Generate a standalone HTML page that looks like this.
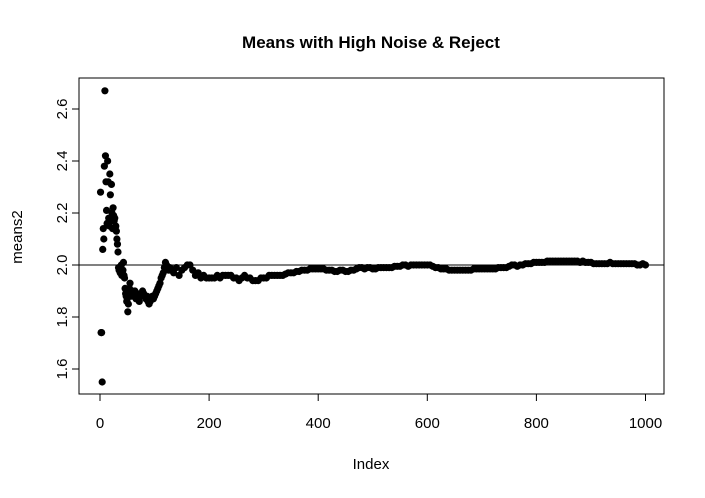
<!DOCTYPE html>
<html><head><meta charset="utf-8"><style>
body{margin:0;background:#fff}
svg text{font-family:"Liberation Sans",Arial,sans-serif;fill:#000}
</style></head><body>
<svg id="chart" width="705" height="493" xmlns="http://www.w3.org/2000/svg">
<rect width="705" height="493" fill="#fff"/>
<text x="371" y="48" text-anchor="middle" font-size="17" font-weight="bold">Means with High Noise &amp; Reject</text>
<text x="371" y="469" text-anchor="middle" font-size="15">Index</text>
<text transform="translate(22,237) rotate(-90)" text-anchor="middle" font-size="15">means2</text>
<g id="axes"></g>
<g id="points"></g>
<rect x="79" y="78" width="585" height="316" fill="none" stroke="#000" stroke-width="1"/>
</svg>
<script>
const earlyValues=[2.28,1.74,1.74,1.55,2.06,2.14,2.10,2.38,2.67,2.42,2.32,2.21,2.16,2.40,2.32,2.18,2.15,2.35,2.27,2.17,2.31,2.20,2.14,2.22,2.19,2.17,2.18,2.14,2.15,2.13,2.10,2.08,2.05,1.99,1.98,1.98,1.97,1.99,2.00,1.96,1.97,1.98,2.01,1.96,1.95,1.91,1.89,1.88,1.86,1.87,1.82,1.85,1.88,1.91,1.93,1.90,1.89,1.88,1.90,1.89];
const midStart=62;
const midStep=2;
const midValues=[1.88,1.90,1.87,1.89,1.88,1.86,1.88,1.89,1.90,1.89,1.88,1.87,1.88,1.86,1.85,1.86,1.87,1.88,1.87,1.88,1.89,1.90,1.91,1.92,1.93,1.95,1.96,1.97,1.99,2.01,2.00,1.99,1.98,1.99,1.98];
const laterStart=135;
const laterStep=5;
const laterValues=[1.97,1.99,1.96,1.98,1.99,2.00,
2.00,1.98,1.96,1.97,1.95,1.96,1.95,1.95,
1.95,1.95,1.96,1.95,1.96,1.96,1.96,1.96,1.95,1.95,
1.94,1.95,1.96,1.95,1.95,1.94,1.94,1.94,1.95,1.95,
1.95,1.96,1.96,1.96,1.96,1.96,1.96,1.965,1.97,1.97,1.97,1.975,1.975,1.98,1.98,1.98,1.985,1.985,1.985,1.985,
1.985,1.985,1.98,1.98,1.98,1.975,1.975,1.98,1.98,1.975,1.975,1.98,1.98,1.985,1.99,1.99,1.985,1.99,1.99,1.985,
1.985,1.99,1.99,1.99,1.99,1.99,1.99,1.995,1.995,1.995,2.0,2.0,1.995,2.0,2.0,2.0,2.0,2.0,2.0,2.0,
2.0,1.995,1.99,1.99,1.985,1.985,1.985,1.98,1.98,1.98,1.98,1.98,1.98,1.98,1.98,1.98,1.985,1.985,1.985,1.985,
1.985,1.985,1.985,1.985,1.985,1.99,1.99,1.99,1.99,1.995,2.0,2.0,1.995,2.0,2.0,2.005,2.005,2.005,2.01,2.01,
2.01,2.01,2.01,2.015,2.015,2.015,2.015,2.015,2.015,2.015,2.015,2.015,2.015,2.015,2.015,2.01,2.015,2.01,2.01,2.01,
2.005,2.005,2.005,2.005,2.005,2.005,2.01,2.005,2.005,2.005,2.005,2.005,2.005,2.005,2.005,2.005,2.0,2.0,2.005,2.0];
const xTicks=[0,200,400,600,800,1000];
const yTicks=[1.6,1.8,2.0,2.2,2.4,2.6];
const refLine=2.0;

const NS="http://www.w3.org/2000/svg";
const xs=v=>100+v*0.5455;
const ys=v=>265-(v-2.0)*260;
const axes=document.getElementById('axes');
const pts=document.getElementById('points');
function mk(tag,attrs,parent){const e=document.createElementNS(NS,tag);for(const k in attrs)e.setAttribute(k,attrs[k]);parent.appendChild(e);return e;}

xTicks.forEach(t=>{
  const l=mk('line',{x1:xs(t),x2:xs(t),y1:394,y2:401,stroke:'#000'},axes);
  
  
  const tx=mk('text',{x:xs(t),y:428,'text-anchor':'middle','font-size':15},axes);
  tx.textContent=t;
  
  
});
const xl=mk('line',{x1:xs(0),x2:xs(1000),y1:394,y2:394,stroke:'#000'},axes);


yTicks.forEach(t=>{
  const l=mk('line',{x1:72,x2:79,y1:ys(t),y2:ys(t),stroke:'#000'},axes);
  
  
  const tx=mk('text',{transform:`translate(67,${ys(t)}) rotate(-90)`,'text-anchor':'middle','font-size':15},axes);
  tx.textContent=t.toFixed(1);
  
  
});
const yl=mk('line',{x1:79,x2:79,y1:ys(1.6),y2:ys(2.6),stroke:'#000'},axes);


const rl=mk('line',{x1:79,x2:664,y1:ys(refLine),y2:ys(refLine),stroke:'#000'},axes);



function dot(i,v){
  const c=mk('circle',{cx:xs(i),cy:ys(v),r:3.6,fill:'#000'},pts);
  
  
}
earlyValues.forEach((v,k)=>dot(k+1,v));
midValues.forEach((v,k)=>dot(midStart+k*midStep,v));
laterValues.forEach((v,k)=>dot(laterStart+k*laterStep,v));
</script>
</body></html>
